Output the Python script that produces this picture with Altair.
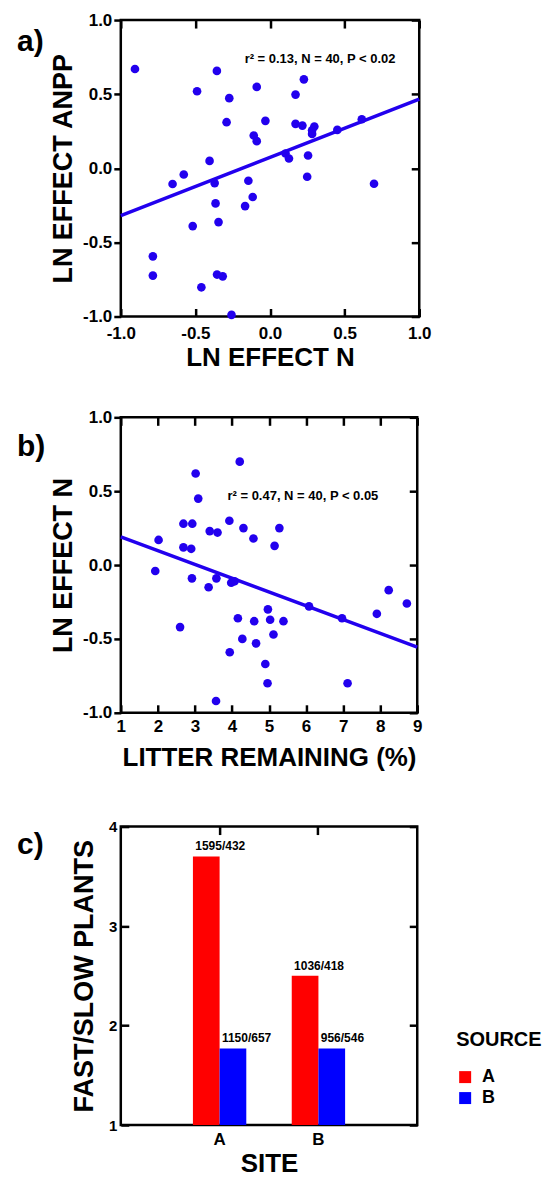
import altair as alt
import pandas as pd

FONT = "Liberation Sans"
DOT = "#2200ee"

# ---------------- panel a data ----------------
a_x = [-0.905, -0.356, -0.489, -0.273, -0.089, 0.227, 0.171, -0.291, -0.031, 0.171,
       0.217, 0.297, 0.282, 0.282, 0.451, 0.615, -0.109, -0.089, 0.104, 0.127,
       0.255, -0.405, 0.249, 0.697, -0.578, -0.653, -0.371, -0.145, -0.116, -0.167,
       -0.365, -0.345, -0.518, -0.785, -0.785, -0.355, -0.317, -0.460, -0.258]
a_y = [0.670, 0.657, 0.520, 0.473, 0.549, 0.600, 0.497, 0.311, 0.320, 0.300,
       0.288, 0.282, 0.257, 0.232, 0.259, 0.331, 0.221, 0.183, 0.100, 0.066,
       0.086, 0.050, -0.057, -0.104, -0.042, -0.106, -0.100, -0.084, -0.194, -0.255,
       -0.237, -0.363, -0.390, -0.594, -0.724, -0.717, -0.729, -0.803, -0.989]
a_fit_x = [-1.0, 1.0]
a_fit_y = [-0.32, 0.466]
a_note = ["r² = 0.13, N = 40, P < 0.02"]
a_note_x = [-0.17]
a_note_y = [0.74]
a_ticks = [-1.0, -0.5, 0.0, 0.5, 1.0]

# ---------------- panel b data ----------------
b_x = [4.21, 3.02, 3.09, 2.69, 2.93, 3.93, 3.40, 3.61, 4.31, 4.58,
       5.28, 5.15, 2.02, 2.69, 2.90, 1.93, 2.92, 3.37, 3.58, 3.98,
       4.07, 2.60, 4.16, 4.60, 4.97, 5.03, 5.39, 4.28, 4.65, 5.12,
       3.94, 4.90, 4.96, 3.57, 6.08, 6.97, 7.12, 7.91, 8.23, 8.72]
b_y = [0.70, 0.62, 0.45, 0.28, 0.28, 0.30, 0.23, 0.22, 0.25, 0.18,
       0.25, 0.13, 0.17, 0.12, 0.11, -0.04, -0.09, -0.15, -0.09, -0.12,
       -0.11, -0.42, -0.36, -0.38, -0.30, -0.37, -0.38, -0.50, -0.53, -0.47,
       -0.59, -0.67, -0.80, -0.92, -0.28, -0.36, -0.80, -0.33, -0.17, -0.26]
b_fit_x = [1.0, 9.0]
b_fit_y = [0.19, -0.555]
b_note = ["r² = 0.47, N = 40, P < 0.05"]
b_note_x = [3.88]
b_note_y = [0.466]
b_xticks = [1, 2, 3, 4, 5, 6, 7, 8, 9]
b_yticks = [-1.0, -0.5, 0.0, 0.5, 1.0]

# ---------------- panel c data ----------------
c_sites = ["A", "A", "B", "B"]
c_sources = ["A", "B", "A", "B"]
c_values = [3.70, 1.77, 2.50, 1.77]
c_labels = ["1595/432", "1150/657", "1036/418", "956/546"]
c_yticks = [1, 2, 3, 4]
c_colors = ["#ff0000", "#0000ff"]

MINUS = "replace(format(datum.value, '.1f'), '\u2212', '-')"

LAB = dict(labelFont=FONT, labelFontWeight="bold", labelColor="black",
           labelFlush=False, labelOverlap=False, labelBound=False)
TIT = dict(titleFont=FONT, titleFontWeight="bold", titleColor="black")
TCK = dict(tickColor="black", tickWidth=2.5, domain=False, grid=False)


def bottom_axis(title, values, expr=None, lpad=9, tpad=3, size=17):
    kw = dict(orient="bottom", title=title, values=values, offset=-8, tickSize=8,
              labelFontSize=size, labelPadding=lpad, titleFontSize=26, titlePadding=tpad,
              **LAB, **TIT, **TCK)
    if expr:
        kw["labelExpr"] = expr
    return alt.Axis(**kw)


def left_axis(title, values, expr=None, tpad=5):
    kw = dict(orient="left", title=title, values=values, tickSize=7,
              labelFontSize=17, labelPadding=2, titleFontSize=27, titlePadding=tpad,
              **LAB, **TIT, **TCK)
    if expr:
        kw["labelExpr"] = expr
    return alt.Axis(**kw)


def mirror_axis(orient, values):
    return alt.Axis(orient=orient, title=None, values=values, offset=-8, tickSize=8,
                    labels=False, **TCK)


def letter(txt, y):
    return alt.Chart(pd.DataFrame({"t": [txt]})).mark_text(
        align="left", baseline="middle", font=FONT, fontSize=30, fontWeight="bold",
        color="black").encode(x=alt.value(-104), y=alt.value(y), text="t:N")


def note(txt, xs, ys, xscale, yscale):
    return alt.Chart(pd.DataFrame({"x": xs, "y": ys, "t": txt})).mark_text(
        align="left", baseline="middle", font=FONT, fontSize=13, fontWeight="bold",
        color="black").encode(
        x=alt.X("x:Q", scale=xscale, axis=None),
        y=alt.Y("y:Q", scale=yscale, axis=None), text="t:N")


# ---------------- panel a ----------------
xs_a = alt.Scale(domain=[-1, 1], nice=False, zero=False)
ys_a = alt.Scale(domain=[-1, 1], nice=False, zero=False)
pts_a = alt.Chart(pd.DataFrame({"x": a_x, "y": a_y})).mark_circle(
    size=75, color=DOT, opacity=1).encode(
    x=alt.X("x:Q", scale=xs_a, axis=bottom_axis("LN EFFECT N", a_ticks, MINUS, 9, 3)),
    y=alt.Y("y:Q", scale=ys_a, axis=left_axis("LN EFFECT ANPP", a_ticks, MINUS)))
fit_a = alt.Chart(pd.DataFrame({"x": a_fit_x, "y": a_fit_y})).mark_line(
    color=DOT, strokeWidth=3.5).encode(
    x=alt.X("x:Q", scale=xs_a, axis=mirror_axis("top", a_ticks)),
    y=alt.Y("y:Q", scale=ys_a, axis=mirror_axis("right", a_ticks)))
panel_a = alt.layer(pts_a, fit_a, note(a_note, a_note_x, a_note_y, xs_a, ys_a),
                    letter("a)", 22)).resolve_axis(
    x="independent", y="independent").properties(width=299, height=297)

# ---------------- panel b ----------------
xs_b = alt.Scale(domain=[1, 9], nice=False, zero=False)
ys_b = alt.Scale(domain=[-1, 1], nice=False, zero=False)
pts_b = alt.Chart(pd.DataFrame({"x": b_x, "y": b_y})).mark_circle(
    size=75, color=DOT, opacity=1).encode(
    x=alt.X("x:Q", scale=xs_b, axis=bottom_axis("LITTER REMAINING (%)", b_xticks, None, 6, 10)),
    y=alt.Y("y:Q", scale=ys_b, axis=left_axis("LN EFFECT N", b_yticks, MINUS)))
fit_b = alt.Chart(pd.DataFrame({"x": b_fit_x, "y": b_fit_y})).mark_line(
    color=DOT, strokeWidth=3.5).encode(
    x=alt.X("x:Q", scale=xs_b, axis=mirror_axis("top", b_xticks)),
    y=alt.Y("y:Q", scale=ys_b, axis=mirror_axis("right", b_yticks)))
panel_b = alt.layer(pts_b, fit_b, note(b_note, b_note_x, b_note_y, xs_b, ys_b),
                    letter("b)", 30)).resolve_axis(
    x="independent", y="independent").properties(width=297, height=296)

# ---------------- panel c ----------------
df_c = pd.DataFrame({"site": c_sites, "source": c_sources, "value": c_values, "label": c_labels})
xs_c = alt.Scale(domain=["A", "B"], paddingInner=0.46, paddingOuter=0.73)
ys_c = alt.Scale(domain=[1, 4], nice=False, zero=False)
off_c = alt.XOffset("source:N", scale=alt.Scale(paddingInner=0, paddingOuter=0))

bars = alt.Chart(df_c).mark_bar().encode(
    x=alt.X("site:N", scale=xs_c, axis=alt.Axis(
        orient="bottom", title="SITE", ticks=False, labelAngle=0, labelFontSize=17,
        labelPadding=7, titleFontSize=26, titlePadding=3, **LAB, **TIT, domain=False, grid=False)),
    xOffset=off_c,
    y=alt.Y("value:Q", scale=ys_c, axis=alt.Axis(
        orient="left", title="FAST/SLOW PLANTS", values=c_yticks, format="d", offset=-8,
        tickSize=8, labelFontSize=15, labelPadding=4, titleFontSize=27, titlePadding=10,
        **LAB, **TIT, **TCK)),
    y2=alt.datum(1),
    color=alt.Color("source:N", scale=alt.Scale(domain=["A", "B"], range=c_colors),
                    legend=alt.Legend(
                        title="SOURCE", orient="none", legendX=336, legendY=204,
                        titleFont=FONT, titleFontSize=20, titleFontWeight="bold",
                        titleColor="black", titlePadding=18,
                        labelFont=FONT, labelFontSize=18, labelFontWeight="bold",
                        labelColor="black", labelOffset=8,
                        symbolType="square", symbolSize=144, symbolStrokeWidth=0,
                        rowPadding=3, padding=0)))
bar_text = alt.Chart(df_c).mark_text(
    align="left", baseline="bottom", dx=-11, dy=-3, font=FONT, fontSize=12,
    fontWeight="bold", color="black").encode(
    x=alt.X("site:N", scale=xs_c, axis=mirror_axis("top", ["A", "B"])),
    xOffset=off_c,
    y=alt.Y("value:Q", scale=ys_c, axis=mirror_axis("right", c_yticks)),
    text="label:N")
panel_c = alt.layer(bars, bar_text, letter("c)", 18)).resolve_axis(
    x="independent", y="independent").properties(width=297, height=299)

chart = alt.vconcat(
    alt.vconcat(panel_a, panel_b, spacing=34).resolve_legend(color="independent"),
    panel_c, spacing=45
).resolve_legend(color="independent").properties(
    padding={"left": 7, "top": 0, "right": 5, "bottom": 0}
).configure_view(stroke="black", strokeWidth=2.5)

chart.save("out.html", embed_options={"renderer": "svg", "actions": False})
